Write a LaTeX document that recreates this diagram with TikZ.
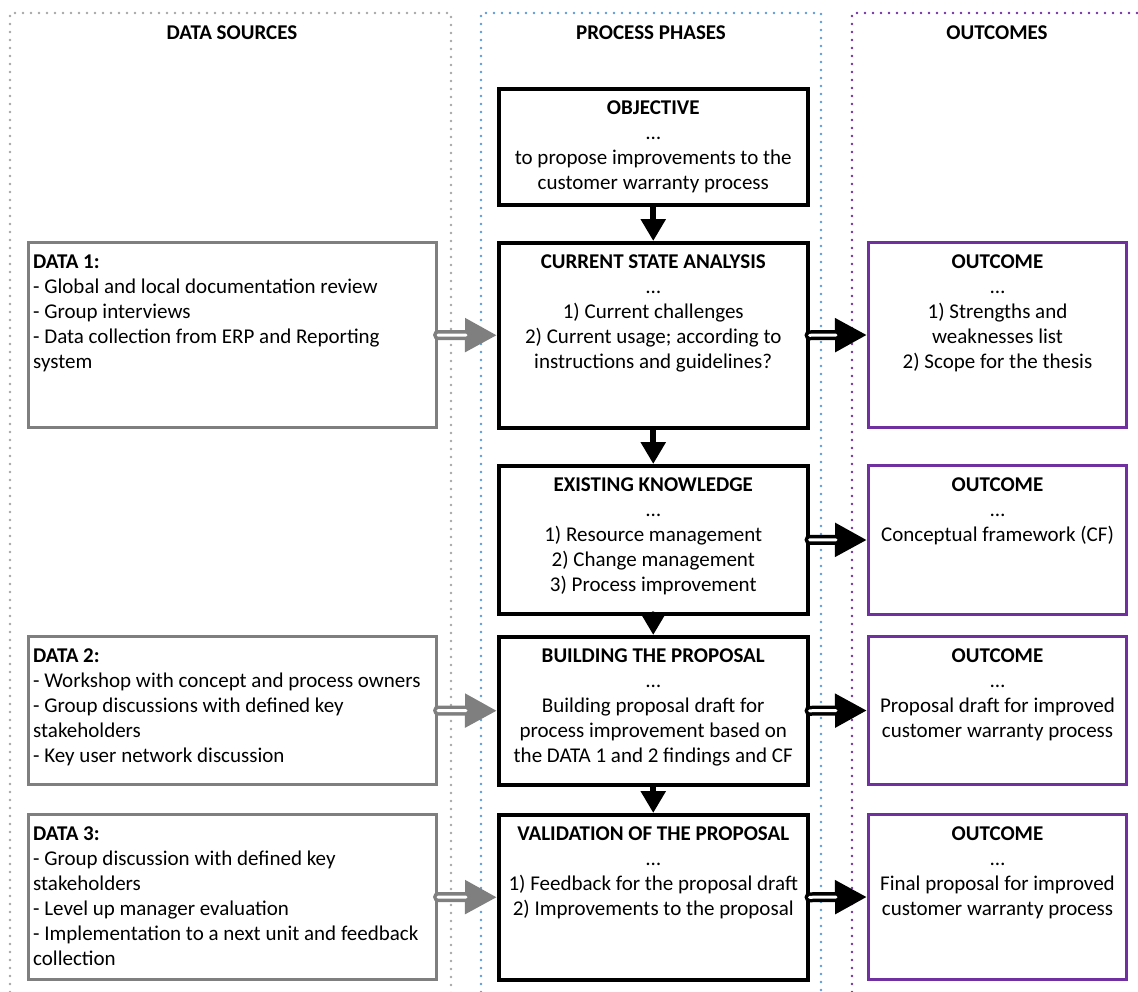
\documentclass[tikz,border=0pt]{standalone}
\usepackage{fontspec}
\setmainfont{Carlito}
\usetikzlibrary{arrows.meta}
\definecolor{framegray}{HTML}{A6A6A6}
\definecolor{frameblue}{HTML}{5B9BD5}
\definecolor{framepurple}{HTML}{7030A0}
\definecolor{boxgray}{HTML}{7F7F7F}
\begin{document}
\begin{tikzpicture}[x=1pt,y=-1pt,
  frame/.style={line width=2.6pt, line cap=round, dash pattern=on 0pt off 8pt},
  head/.style={font=\bfseries\fontsize{21}{25}\selectfont, inner sep=0pt},
  phase/.style={draw=black, line width=3.5pt, minimum width=309pt, anchor=north west, inner sep=0pt},
  source/.style={draw=boxgray, line width=3pt, minimum width=408pt, anchor=north west, inner sep=0pt},
  result/.style={draw=framepurple, line width=3pt, minimum width=258pt, anchor=north west, inner sep=0pt},
  ctext/.style={anchor=north, align=center, inner sep=0pt, font=\fontsize{21}{25}\selectfont},
  ltext/.style={anchor=north west, align=left, inner sep=0pt, font=\fontsize{21}{25}\selectfont},
  feed/.style={line width=10pt, line cap=round, -{Triangle[length=32pt,width=32pt]},
    postaction={draw=white, line width=3pt, -, shorten >=31pt}},
  flow/.style={line width=6pt, line cap=round, -{Triangle[length=22pt,width=24pt]}},
]
\useasboundingbox (0,0) rectangle (1138,991);

% column frames
\draw[frame, framegray] (10,1000) -- (10,13) -- (451,13) -- (451,1000);
\draw[frame, frameblue] (481,1000) -- (481,13) -- (821,13) -- (821,1000);
\draw[frame, framepurple] (852,1000) -- (852,13) -- (1145,13);

% column headings
\node[head] (hsrc) at (232,33) {DATA SOURCES};
\node[head] (hphase) at (651,33) {PROCESS PHASES};
\node[head] (hout) at (997,33) {OUTCOMES};

% process phases
\node[phase, minimum height=116pt] (obj) at (497,87) {};
\node[phase, minimum height=185pt] (csa) at (497,241) {};
\node[phase, minimum height=148pt] (ek) at (497,464) {};
\node[phase, minimum height=148pt] (bp) at (497,635) {};
\node[phase, minimum height=165pt] (vp) at (497,813) {};

% data sources
\node[source, minimum height=185pt] (d1) at (27,241) {};
\node[source, minimum height=148pt] (d2) at (27,635) {};
\node[source, minimum height=165pt] (d3) at (27,813) {};

% outcomes
\node[result, minimum height=185pt] (o1) at (867,241) {};
\node[result, minimum height=149pt] (o2) at (867,464) {};
\node[result, minimum height=148pt] (o3) at (867,635) {};
\node[result, minimum height=165pt] (o4) at (867,813) {};

% box texts
\node[ctext] (obj-t) at ([yshift=-14pt]obj.north) {\textbf{OBJECTIVE}\\…\\to propose improvements to the\\customer warranty process};
\node[ctext] (csa-t) at ([yshift=-14pt]csa.north) {\textbf{CURRENT STATE ANALYSIS}\\…\\1) Current challenges\\2) Current usage; according to\\instructions and guidelines?};
\node[ctext] (ek-t) at ([yshift=-14pt]ek.north) {\textbf{EXISTING KNOWLEDGE}\\…\\1) Resource management\\2) Change management\\3) Process improvement};
\node[ctext] (bp-t) at ([yshift=-14pt]bp.north) {\textbf{BUILDING THE PROPOSAL}\\…\\Building proposal draft for\\process improvement based on\\the DATA 1 and 2 findings and CF};
\node[ctext] (vp-t) at ([yshift=-14pt]vp.north) {\textbf{VALIDATION OF THE PROPOSAL}\\…\\1) Feedback for the proposal draft\\2) Improvements to the proposal};

\node[ltext] (d1-t) at ([xshift=6pt,yshift=-14pt]d1.north west) {\textbf{DATA 1:}\\- Global and local documentation review\\- Group interviews\\- Data collection from ERP and Reporting\\system};
\node[ltext] (d2-t) at ([xshift=6pt,yshift=-14pt]d2.north west) {\textbf{DATA 2:}\\- Workshop with concept and process owners\\- Group discussions with defined key\\stakeholders\\- Key user network discussion};
\node[ltext] (d3-t) at ([xshift=6pt,yshift=-14pt]d3.north west) {\textbf{DATA 3:}\\- Group discussion with defined key\\stakeholders\\- Level up manager evaluation\\- Implementation to a next unit and feedback\\collection};

\node[ctext] (o1-t) at ([yshift=-14pt]o1.north) {\textbf{OUTCOME}\\…\\1) Strengths and\\weaknesses list\\2) Scope for the thesis};
\node[ctext] (o2-t) at ([yshift=-14pt]o2.north) {\textbf{OUTCOME}\\…\\Conceptual framework (CF)};
\node[ctext] (o3-t) at ([yshift=-14pt]o3.north) {\textbf{OUTCOME}\\…\\Proposal draft for improved\\customer warranty process};
\node[ctext] (o4-t) at ([yshift=-14pt]o4.north) {\textbf{OUTCOME}\\…\\Final proposal for improved\\customer warranty process};

% phase sequence
\draw[flow] (obj.south) -- (csa.north);
\draw[flow] (csa.south) -- (ek.north);
\draw[flow] (ek.south) -- (bp.north);
\draw[flow] (bp.south) -- (vp.north);

% inputs and outputs
\draw[feed, boxgray] (d1.east) -- (csa.west);
\draw[feed, boxgray] (d2.east) -- (bp.west);
\draw[feed, boxgray] (d3.east) -- (vp.west);
\draw[feed, black] (csa.east) -- (o1.west);
\draw[feed, black] (ek.east) -- (o2.west);
\draw[feed, black] (bp.east) -- (o3.west);
\draw[feed, black] (vp.east) -- (o4.west);
\end{tikzpicture}
\end{document}
